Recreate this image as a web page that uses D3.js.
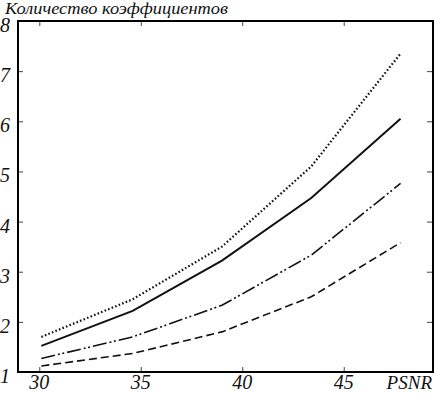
<!DOCTYPE html>
<html>
<head>
<meta charset="utf-8">
<script src="https://cdn.jsdelivr.net/npm/d3@7"></script>
<style>
  body { margin: 0; background: #fff; }
</style>
</head>
<body>
<svg id="chart"></svg>
<script>
// data
const psnr = [30.1, 34.6, 39.0, 43.4, 47.8];
const dotted = [1.70, 2.45, 3.50, 5.10, 7.35];
const solid = [1.52, 2.22, 3.22, 4.47, 6.05];
const dashDot = [1.27, 1.70, 2.33, 3.33, 4.76];
const dashed = [1.12, 1.37, 1.80, 2.50, 3.58];
const xTicks = [30, 35, 40, 45];
const yTicks = [1, 2, 3, 4, 5, 6, 7, 8];

const width = 435, height = 393;
const plotLeft = 18, plotRight = 433, plotTop = 21, plotBottom = 372;
const serif = "'Liberation Serif', 'Times New Roman', serif";

const svg = d3.select("#chart")
    .attr("width", width)
    .attr("height", height);

const x = d3.scaleLinear().domain([28.95, 49.4]).range([plotLeft, plotRight]);
const y = d3.scaleLinear().domain([1, 8]).range([plotBottom, plotTop]);

// inward ticks on all four sides
function ticks(axis, tx, ty) {
    const g = svg.append("g").attr("transform", `translate(${tx},${ty})`).call(axis);
    g.select(".domain").remove();
    g.selectAll("text").remove();
    g.selectAll("line").attr("stroke", "#444").attr("stroke-width", 1);
}
ticks(d3.axisBottom(x).tickValues(xTicks).tickSizeInner(-5).tickSizeOuter(0), 0, plotBottom);
ticks(d3.axisTop(x).tickValues(xTicks).tickSizeInner(-5).tickSizeOuter(0), 0, plotTop);
ticks(d3.axisLeft(y).tickValues(yTicks.slice(1, -1)).tickSizeInner(-5).tickSizeOuter(0), plotLeft, 0);
ticks(d3.axisRight(y).tickValues(yTicks.slice(1, -1)).tickSizeInner(-6).tickSizeOuter(0), plotRight, 0);

// frame
svg.append("rect")
    .attr("x", plotLeft).attr("y", plotTop)
    .attr("width", plotRight - plotLeft).attr("height", plotBottom - plotTop)
    .attr("fill", "none").attr("stroke", "#000").attr("stroke-width", 2);

function label(sel) {
    return sel.attr("font-family", serif).attr("font-style", "italic").attr("fill", "#111");
}

// tick labels
svg.selectAll(".xl").data(xTicks).enter().append("text")
    .call(label)
    .attr("x", d => x(d)).attr("y", 389)
    .attr("text-anchor", "middle").attr("font-size", 20)
    .text(d => d);
svg.selectAll(".yl").data(yTicks).enter().append("text")
    .call(label)
    .attr("x", 10).attr("y", d => y(d) + 11)
    .attr("text-anchor", "end").attr("font-size", 20)
    .text(d => d);

svg.append("text").call(label)
    .attr("x", 432).attr("y", 389)
    .attr("text-anchor", "end").attr("font-size", 19)
    .text("PSNR");

svg.append("text").call(label)
    .attr("x", 5).attr("y", 14)
    .attr("font-size", 17)
    .attr("textLength", 223).attr("lengthAdjust", "spacingAndGlyphs")
    .text("Количество коэффициентов");

// curves
const line = d3.line().x((d, i) => x(psnr[i])).y(d => y(d));
const series = [
    { values: dotted, dash: "1.6,2.2", w: 2.2 },
    { values: solid, dash: null, w: 2 },
    { values: dashDot, dash: "14,3,2,2.5,2,3", w: 1.6 },
    { values: dashed, dash: "8,4", w: 1.6 }
];
series.forEach(s => {
    svg.append("path")
        .attr("d", line(s.values))
        .attr("fill", "none")
        .attr("stroke", "#111")
        .attr("stroke-width", s.w)
        .attr("stroke-dasharray", s.dash);
});
</script>
</body>
</html>
